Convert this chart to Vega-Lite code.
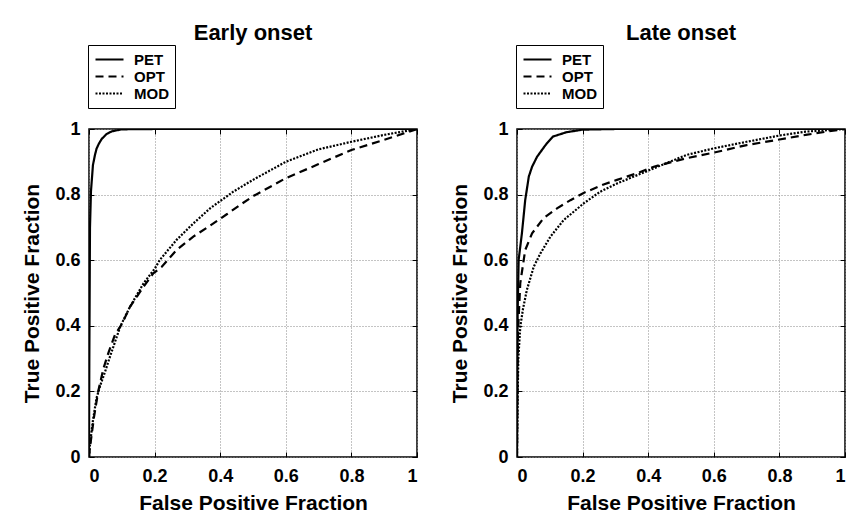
{
  "$schema": "https://vega.github.io/schema/vega-lite/v6.json",
  "background": "white",
  "padding": {"left": 21, "top": 20, "right": 5, "bottom": 5},
  "spacing": 30,
  "resolve": {"scale": {"strokeDash": "independent", "strokeWidth": "independent"}, "legend": {"strokeDash": "independent"}},
  "config": {
    "font": "Liberation Sans",
    "view": {"stroke": "black", "strokeWidth": 1.5},
    "title": {"fontSize": 22, "fontWeight": "bold", "color": "black", "font": "Liberation Sans"},
    "axis": {
      "labelFont": "Liberation Sans", "labelFontSize": 18, "labelFontWeight": "bold", "labelColor": "black",
      "titleFont": "Liberation Sans", "titleFontSize": 21, "titleFontWeight": "bold", "titleColor": "black",
      "domain": false, "tickColor": "black", "tickSize": -5, "tickWidth": 1,
      "gridColor": "#888888", "gridDash": [1, 2], "gridWidth": 1
    },
    "legend": {
      "labelFont": "Liberation Sans", "labelFontSize": 15, "labelFontWeight": "bold", "labelColor": "black",
      "fillColor": "white", "strokeColor": "black", "padding": 6, "rowPadding": 0,
      "symbolType": "M-1,0H3", "symbolSize": 196, "symbolStrokeColor": "black", "symbolStrokeWidth": 2, "labelOffset": 23
    }
  },
  "datasets": {
    "roc": [
      {"p": "Early onset", "m": "PET", "x": 0, "y": 0},
      {"p": "Early onset", "m": "PET", "x": 0.001, "y": 0.3},
      {"p": "Early onset", "m": "PET", "x": 0.002, "y": 0.5},
      {"p": "Early onset", "m": "PET", "x": 0.003, "y": 0.7},
      {"p": "Early onset", "m": "PET", "x": 0.006, "y": 0.81},
      {"p": "Early onset", "m": "PET", "x": 0.012, "y": 0.89},
      {"p": "Early onset", "m": "PET", "x": 0.018, "y": 0.92},
      {"p": "Early onset", "m": "PET", "x": 0.023, "y": 0.94},
      {"p": "Early onset", "m": "PET", "x": 0.03, "y": 0.955},
      {"p": "Early onset", "m": "PET", "x": 0.039, "y": 0.97},
      {"p": "Early onset", "m": "PET", "x": 0.054, "y": 0.985},
      {"p": "Early onset", "m": "PET", "x": 0.07, "y": 0.993},
      {"p": "Early onset", "m": "PET", "x": 0.1, "y": 0.999},
      {"p": "Early onset", "m": "PET", "x": 0.2, "y": 1},
      {"p": "Early onset", "m": "PET", "x": 1, "y": 1},
      {"p": "Early onset", "m": "OPT", "x": 0, "y": 0},
      {"p": "Early onset", "m": "OPT", "x": 0.003, "y": 0.03},
      {"p": "Early onset", "m": "OPT", "x": 0.008, "y": 0.067},
      {"p": "Early onset", "m": "OPT", "x": 0.015, "y": 0.12},
      {"p": "Early onset", "m": "OPT", "x": 0.028, "y": 0.2},
      {"p": "Early onset", "m": "OPT", "x": 0.044, "y": 0.27},
      {"p": "Early onset", "m": "OPT", "x": 0.06, "y": 0.32},
      {"p": "Early onset", "m": "OPT", "x": 0.079, "y": 0.372},
      {"p": "Early onset", "m": "OPT", "x": 0.1, "y": 0.405},
      {"p": "Early onset", "m": "OPT", "x": 0.125, "y": 0.458},
      {"p": "Early onset", "m": "OPT", "x": 0.166, "y": 0.519},
      {"p": "Early onset", "m": "OPT", "x": 0.196, "y": 0.56},
      {"p": "Early onset", "m": "OPT", "x": 0.222, "y": 0.58},
      {"p": "Early onset", "m": "OPT", "x": 0.267, "y": 0.631},
      {"p": "Early onset", "m": "OPT", "x": 0.318, "y": 0.672},
      {"p": "Early onset", "m": "OPT", "x": 0.369, "y": 0.705},
      {"p": "Early onset", "m": "OPT", "x": 0.42, "y": 0.74},
      {"p": "Early onset", "m": "OPT", "x": 0.46, "y": 0.768},
      {"p": "Early onset", "m": "OPT", "x": 0.5, "y": 0.795},
      {"p": "Early onset", "m": "OPT", "x": 0.6, "y": 0.85},
      {"p": "Early onset", "m": "OPT", "x": 0.7, "y": 0.893},
      {"p": "Early onset", "m": "OPT", "x": 0.8, "y": 0.936},
      {"p": "Early onset", "m": "OPT", "x": 0.9, "y": 0.967},
      {"p": "Early onset", "m": "OPT", "x": 1, "y": 1},
      {"p": "Early onset", "m": "MOD", "x": 0, "y": 0},
      {"p": "Early onset", "m": "MOD", "x": 0.003, "y": 0.037},
      {"p": "Early onset", "m": "MOD", "x": 0.008, "y": 0.08},
      {"p": "Early onset", "m": "MOD", "x": 0.013, "y": 0.118},
      {"p": "Early onset", "m": "MOD", "x": 0.023, "y": 0.18},
      {"p": "Early onset", "m": "MOD", "x": 0.035, "y": 0.22},
      {"p": "Early onset", "m": "MOD", "x": 0.049, "y": 0.26},
      {"p": "Early onset", "m": "MOD", "x": 0.064, "y": 0.306},
      {"p": "Early onset", "m": "MOD", "x": 0.095, "y": 0.397},
      {"p": "Early onset", "m": "MOD", "x": 0.125, "y": 0.458},
      {"p": "Early onset", "m": "MOD", "x": 0.166, "y": 0.529},
      {"p": "Early onset", "m": "MOD", "x": 0.201, "y": 0.575},
      {"p": "Early onset", "m": "MOD", "x": 0.216, "y": 0.601},
      {"p": "Early onset", "m": "MOD", "x": 0.267, "y": 0.662},
      {"p": "Early onset", "m": "MOD", "x": 0.318, "y": 0.712},
      {"p": "Early onset", "m": "MOD", "x": 0.369, "y": 0.758},
      {"p": "Early onset", "m": "MOD", "x": 0.44, "y": 0.809},
      {"p": "Early onset", "m": "MOD", "x": 0.5, "y": 0.845},
      {"p": "Early onset", "m": "MOD", "x": 0.6, "y": 0.9},
      {"p": "Early onset", "m": "MOD", "x": 0.7, "y": 0.938},
      {"p": "Early onset", "m": "MOD", "x": 0.8, "y": 0.961},
      {"p": "Early onset", "m": "MOD", "x": 0.9, "y": 0.982},
      {"p": "Early onset", "m": "MOD", "x": 1, "y": 1},
      {"p": "Late onset", "m": "PET", "x": 0, "y": 0},
      {"p": "Late onset", "m": "PET", "x": 0.001, "y": 0.25},
      {"p": "Late onset", "m": "PET", "x": 0.002, "y": 0.443},
      {"p": "Late onset", "m": "PET", "x": 0.005, "y": 0.601},
      {"p": "Late onset", "m": "PET", "x": 0.015, "y": 0.682},
      {"p": "Late onset", "m": "PET", "x": 0.025, "y": 0.783},
      {"p": "Late onset", "m": "PET", "x": 0.036, "y": 0.855},
      {"p": "Late onset", "m": "PET", "x": 0.046, "y": 0.885},
      {"p": "Late onset", "m": "PET", "x": 0.061, "y": 0.915},
      {"p": "Late onset", "m": "PET", "x": 0.076, "y": 0.936},
      {"p": "Late onset", "m": "PET", "x": 0.09, "y": 0.955},
      {"p": "Late onset", "m": "PET", "x": 0.11, "y": 0.977},
      {"p": "Late onset", "m": "PET", "x": 0.15, "y": 0.99},
      {"p": "Late onset", "m": "PET", "x": 0.2, "y": 0.998},
      {"p": "Late onset", "m": "PET", "x": 0.3, "y": 1},
      {"p": "Late onset", "m": "PET", "x": 1, "y": 1},
      {"p": "Late onset", "m": "OPT", "x": 0, "y": 0},
      {"p": "Late onset", "m": "OPT", "x": 0.001, "y": 0.2},
      {"p": "Late onset", "m": "OPT", "x": 0.003, "y": 0.38},
      {"p": "Late onset", "m": "OPT", "x": 0.01, "y": 0.53},
      {"p": "Late onset", "m": "OPT", "x": 0.025, "y": 0.631},
      {"p": "Late onset", "m": "OPT", "x": 0.046, "y": 0.682},
      {"p": "Late onset", "m": "OPT", "x": 0.081, "y": 0.728},
      {"p": "Late onset", "m": "OPT", "x": 0.122, "y": 0.758},
      {"p": "Late onset", "m": "OPT", "x": 0.163, "y": 0.783},
      {"p": "Late onset", "m": "OPT", "x": 0.203, "y": 0.805},
      {"p": "Late onset", "m": "OPT", "x": 0.264, "y": 0.831},
      {"p": "Late onset", "m": "OPT", "x": 0.305, "y": 0.845},
      {"p": "Late onset", "m": "OPT", "x": 0.366, "y": 0.865},
      {"p": "Late onset", "m": "OPT", "x": 0.417, "y": 0.885},
      {"p": "Late onset", "m": "OPT", "x": 0.517, "y": 0.911},
      {"p": "Late onset", "m": "OPT", "x": 0.6, "y": 0.928},
      {"p": "Late onset", "m": "OPT", "x": 0.7, "y": 0.951},
      {"p": "Late onset", "m": "OPT", "x": 0.8, "y": 0.968},
      {"p": "Late onset", "m": "OPT", "x": 0.88, "y": 0.982},
      {"p": "Late onset", "m": "OPT", "x": 0.95, "y": 0.993},
      {"p": "Late onset", "m": "OPT", "x": 1, "y": 1},
      {"p": "Late onset", "m": "MOD", "x": 0, "y": 0},
      {"p": "Late onset", "m": "MOD", "x": 0.002, "y": 0.18},
      {"p": "Late onset", "m": "MOD", "x": 0.004, "y": 0.3},
      {"p": "Late onset", "m": "MOD", "x": 0.01, "y": 0.397},
      {"p": "Late onset", "m": "MOD", "x": 0.018, "y": 0.45},
      {"p": "Late onset", "m": "MOD", "x": 0.03, "y": 0.509},
      {"p": "Late onset", "m": "MOD", "x": 0.051, "y": 0.58},
      {"p": "Late onset", "m": "MOD", "x": 0.071, "y": 0.62},
      {"p": "Late onset", "m": "MOD", "x": 0.102, "y": 0.672},
      {"p": "Late onset", "m": "MOD", "x": 0.142, "y": 0.722},
      {"p": "Late onset", "m": "MOD", "x": 0.203, "y": 0.773},
      {"p": "Late onset", "m": "MOD", "x": 0.254, "y": 0.809},
      {"p": "Late onset", "m": "MOD", "x": 0.305, "y": 0.834},
      {"p": "Late onset", "m": "MOD", "x": 0.356, "y": 0.855},
      {"p": "Late onset", "m": "MOD", "x": 0.417, "y": 0.88},
      {"p": "Late onset", "m": "MOD", "x": 0.517, "y": 0.921},
      {"p": "Late onset", "m": "MOD", "x": 0.6, "y": 0.941},
      {"p": "Late onset", "m": "MOD", "x": 0.7, "y": 0.961},
      {"p": "Late onset", "m": "MOD", "x": 0.8, "y": 0.98},
      {"p": "Late onset", "m": "MOD", "x": 0.88, "y": 0.992},
      {"p": "Late onset", "m": "MOD", "x": 1, "y": 1}
    ]
  },
  "hconcat": [
    {
      "title": {"text": "Early onset", "offset": 0},
      "width": 328, "height": 328,
      "data": {"name": "roc"},
      "transform": [{"filter": "datum.p === 'Early onset'"}],
      "resolve": {"scale": {"x": "independent", "y": "independent"}},
      "layer": [
        {
          "mark": {"type": "line", "color": "black", "clip": true},
          "encoding": {
            "x": {"field": "x", "type": "quantitative", "scale": {"domain": [0, 1], "nice": false}, "axis": {"values": [0, 0.2, 0.4, 0.6, 0.8, 1], "format": "~g", "title": "False Positive Fraction", "labelPadding": 15, "titlePadding": 7}},
            "y": {"field": "y", "type": "quantitative", "scale": {"domain": [0, 1], "nice": false}, "axis": {"values": [0, 0.2, 0.4, 0.6, 0.8, 1], "format": "~g", "title": "True Positive Fraction", "labelPadding": 14, "titlePadding": 12}},
            "strokeDash": {"field": "m", "type": "nominal", "scale": {"domain": ["PET", "OPT", "MOD"], "range": [[1, 0], [8, 5], [2, 1.5]]}, "legend": {"title": null, "orient": "none", "legendX": -1, "legendY": -84}},
            "strokeWidth": {"field": "m", "type": "nominal", "scale": {"domain": ["PET", "OPT", "MOD"], "range": [2.2, 2.2, 1.8]}, "legend": null}
          }
        },
        {
          "mark": {"type": "line", "strokeOpacity": 0},
          "encoding": {
            "x": {"field": "x", "type": "quantitative", "scale": {"domain": [0, 1], "nice": false}, "axis": {"orient": "top", "values": [0, 0.2, 0.4, 0.6, 0.8, 1], "labels": false, "title": null, "grid": false}},
            "y": {"field": "y", "type": "quantitative", "scale": {"domain": [0, 1], "nice": false}, "axis": {"orient": "right", "values": [0, 0.2, 0.4, 0.6, 0.8, 1], "labels": false, "title": null, "grid": false}},
            "detail": {"field": "m"}
          }
        }
      ]
    },
    {
      "title": {"text": "Late onset", "offset": 0},
      "width": 328, "height": 328,
      "data": {"name": "roc"},
      "transform": [{"filter": "datum.p === 'Late onset'"}],
      "resolve": {"scale": {"x": "independent", "y": "independent"}},
      "layer": [
        {
          "mark": {"type": "line", "color": "black", "clip": true},
          "encoding": {
            "x": {"field": "x", "type": "quantitative", "scale": {"domain": [0, 1], "nice": false}, "axis": {"values": [0, 0.2, 0.4, 0.6, 0.8, 1], "format": "~g", "title": "False Positive Fraction", "labelPadding": 15, "titlePadding": 7}},
            "y": {"field": "y", "type": "quantitative", "scale": {"domain": [0, 1], "nice": false}, "axis": {"values": [0, 0.2, 0.4, 0.6, 0.8, 1], "format": "~g", "title": "True Positive Fraction", "labelPadding": 14, "titlePadding": 12}},
            "strokeDash": {"field": "m", "type": "nominal", "scale": {"domain": ["PET", "OPT", "MOD"], "range": [[1, 0], [8, 5], [2, 1.5]]}, "legend": {"title": null, "orient": "none", "legendX": -1, "legendY": -84}},
            "strokeWidth": {"field": "m", "type": "nominal", "scale": {"domain": ["PET", "OPT", "MOD"], "range": [2.2, 2.2, 1.8]}, "legend": null}
          }
        },
        {
          "mark": {"type": "line", "strokeOpacity": 0},
          "encoding": {
            "x": {"field": "x", "type": "quantitative", "scale": {"domain": [0, 1], "nice": false}, "axis": {"orient": "top", "values": [0, 0.2, 0.4, 0.6, 0.8, 1], "labels": false, "title": null, "grid": false}},
            "y": {"field": "y", "type": "quantitative", "scale": {"domain": [0, 1], "nice": false}, "axis": {"orient": "right", "values": [0, 0.2, 0.4, 0.6, 0.8, 1], "labels": false, "title": null, "grid": false}},
            "detail": {"field": "m"}
          }
        }
      ]
    }
  ]
}
